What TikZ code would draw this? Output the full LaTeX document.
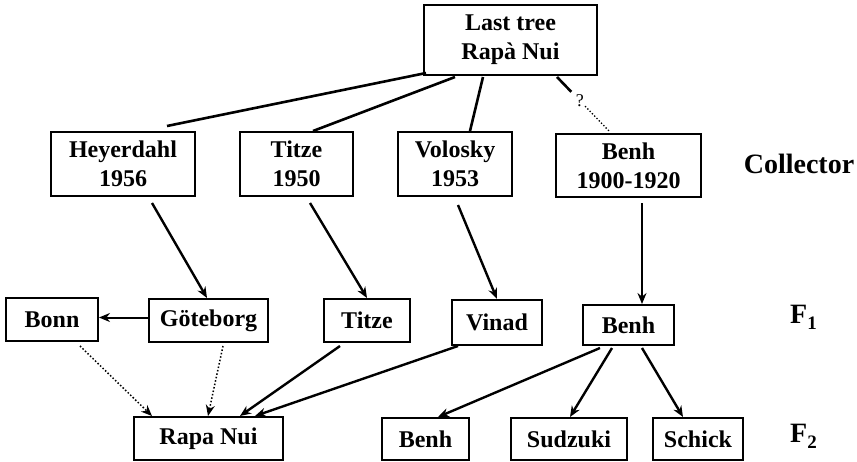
\documentclass[tikz,border=0pt]{standalone}
\usepackage{fontspec}
\setmainfont{Liberation Serif}
\usetikzlibrary{arrows.meta,calc}
\newcommand{\boxfont}{\fontsize{24}{29}\selectfont\bfseries}
\newcommand{\lblfont}{\fontsize{28}{32}\selectfont\bfseries}
\newcommand{\gensub}[1]{F\raisebox{-0.22em}{\fontsize{19}{19}\selectfont #1}}
\begin{document}
\begin{tikzpicture}[x=1pt,y=-1pt,
  box/.style={draw, line width=2pt, inner sep=0pt, align=center, font=\boxfont},
  conn/.style={line width=2.6pt},
  arr/.style={line width=2.4pt, -{Stealth[length=11pt,width=9pt]}},
  thinarr/.style={line width=1.6pt, -{Stealth[length=11pt,width=9pt]}},
  dotarr/.style={line width=1.5pt, dotted, -{Stealth[length=11pt,width=9pt]}},
  lbl/.style={inner sep=0pt, font=\lblfont}]
\useasboundingbox (0,0) rectangle (857,461);
% top
\node[box, minimum width=173pt, minimum height=70pt] (top) at (510.5,40) {Last tree\\Rapà Nui};
% collectors
\node[box, minimum width=144pt, minimum height=64pt] (hey) at (123,164) {Heyerdahl\\1956};
\node[box, minimum width=113pt, minimum height=64pt] (tit1) at (296.5,164) {Titze\\1950};
\node[box, minimum width=114pt, minimum height=64pt] (vol) at (455,164) {Volosky\\1953};
\node[box, minimum width=145pt, minimum height=63pt] (benh1) at (628.5,165.5) {Benh\\1900-1920};
\node[lbl] (coll) at (799,164) {Collector};
% F1
\node[box, minimum width=92pt, minimum height=43pt] (bonn) at (52,319.5) {Bonn};
\node[box, minimum width=119pt, minimum height=43pt] (god) at (208.5,320.5) {Göteborg};
\node[box, minimum width=86pt, minimum height=43pt] (tit2) at (367,320.5) {Titze};
\node[box, minimum width=90pt, minimum height=45pt] (vin) at (497,322.5) {Vinad};
\node[box, minimum width=91pt, minimum height=40pt] (benh2) at (628.5,325) {Benh};
\node[lbl, anchor=base west] (f1) at (790,323) {\gensub{1}};
% F2
\node[box, minimum width=149pt, minimum height=43pt] (rapa) at (208.5,438.5) {Rapa Nui};
\node[box, minimum width=87pt, minimum height=42pt] (benh3) at (425.5,439) {Benh};
\node[box, minimum width=116pt, minimum height=42pt] (sud) at (569,439) {Sudzuki};
\node[box, minimum width=90pt, minimum height=42pt] (sch) at (698,439) {Schick};
\node[lbl, anchor=base west] (f2) at (790,442) {\gensub{2}};
% top to collectors
\draw[conn] ($(top.south west)+(3,-3)$) -- ($(hey.north)+(44,-5)$);
\draw[conn] ($(top.south)+(-55.5,1)$) -- ($(tit1.north)+(16.5,0)$);
\draw[conn] ($(top.south)+(-27.5,1)$) -- ($(vol.north)+(15,0)$);
\coordinate (qa) at ($(top.south)+(46.5,1)$);
\coordinate (qb) at ($(benh1.north)+(-18.5,-1)$);
\draw[conn] (qa) -- ($(qa)!0.27!(qb)$);
\node[inner sep=0pt, font=\fontsize{18}{18}\selectfont] (q) at ($(qa)!0.43!(qb)$) {?};
\draw[line width=1.3pt, dotted] ($(qa)!0.53!(qb)$) -- (qb);
% collectors to F1
\draw[arr] ($(hey.south)+(29,6)$) -- ($(god.north)+(-1.5,0)$);
\draw[arr] ($(tit1.south)+(13.5,6)$) -- (tit2.north);
\draw[arr] ($(vol.south)+(3,8)$) -- (vin.north);
\draw[thinarr] ($(benh1.south)+(13.5,5)$) -- ($(benh2.north)+(13.5,0)$);
\draw[thinarr, line width=2pt] ($(god.west)+(0,-3)$) -- ($(god.west -| bonn.east)+(0,-3)$);
% F1 to F2
\draw[dotarr] ($(bonn.south)+(28,4)$) -- ($(rapa.north)+(-56.5,0)$);
\draw[dotarr] ($(god.south)+(14.5,3)$) -- ($(rapa.north)+(-0.5,0)$);
\draw[arr] ($(tit2.south)+(-27,3)$) -- ($(rapa.north)+(31.5,0)$);
\draw[arr] ($(vin.south)+(-39,0)$) -- ($(rapa.north)+(46.5,0)$);
\draw[arr] ($(benh2.south)+(-28.5,2)$) -- ($(benh3.north)+(12.5,0)$);
\draw[arr] ($(benh2.south)+(-16.5,2)$) -- ($(sud.north)+(1,0)$);
\draw[arr] ($(benh2.south)+(13.5,2)$) -- ($(sch.north)+(-15,0)$);
\end{tikzpicture}
\end{document}
